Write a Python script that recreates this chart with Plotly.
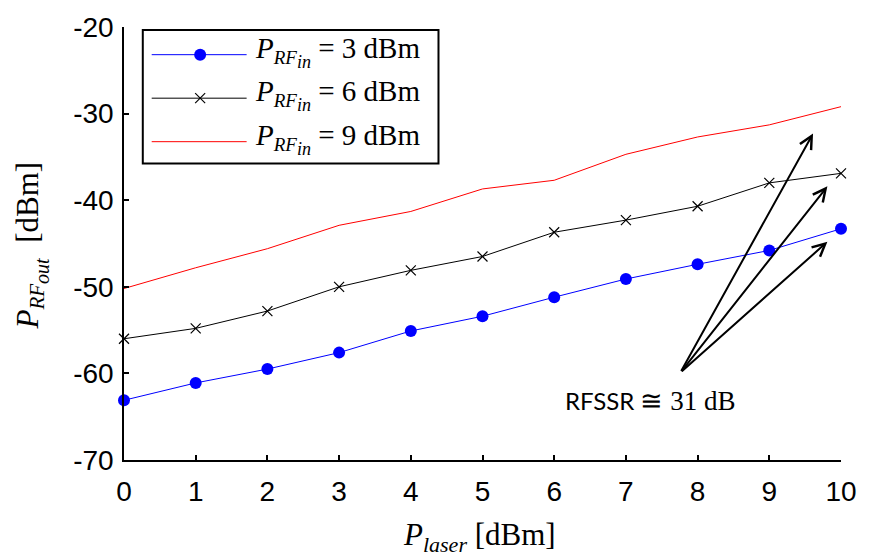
import plotly.graph_objects as go

# Laser power sweep [dBm]
p_laser = [0, 1, 2, 3, 4, 5, 6, 7, 8, 9, 10]

# Output RF power [dBm] for three RF input levels
p_out_3dbm = [-63.1, -61.1, -59.5, -57.6, -55.1, -53.4, -51.2, -49.1, -47.4, -45.8, -43.3]
p_out_6dbm = [-56.0, -54.8, -52.8, -50.0, -48.1, -46.5, -43.7, -42.3, -40.7, -38.0, -36.9]
p_out_9dbm = [-50.2, -47.8, -45.6, -42.9, -41.3, -38.7, -37.7, -34.7, -32.7, -31.3, -29.2]

x_ticks = [0, 1, 2, 3, 4, 5, 6, 7, 8, 9, 10]
y_ticks = [-70, -60, -50, -40, -30, -20]

legend_labels = ["= 3 dBm", "= 6 dBm", "= 9 dBm"]

# RFSSR arrows: common tail and three heads (data units)
arrow_tail = (7.76, -59.9)
arrow_heads = [(9.61, -32.3), (9.81, -38.4), (9.81, -44.8)]

W, H = 869, 557
L, R, T, B = 124, 20, 22, 97
PW, PH = W - L - R, H - T - B

SERIF = "Liberation Serif"


def px(xp):
    return (xp - L) / PW


def py(yp):
    return (H - B - yp) / PH


def sub_label(sym, first, second=None, size=18, size2=17):
    """Italic symbol with a (possibly two-level) subscript."""
    s = f"<i>{sym}<sub><span style=\"font-size:{size}px\">{first}</span>"
    if second:
        s += f"<sub><span style=\"font-size:{size2}px\">{second}</span></sub>"
    s += "</sub></i>"
    return s


fig = go.Figure()

fig.add_trace(go.Scatter(
    x=p_laser, y=p_out_3dbm, mode="lines+markers",
    line=dict(color="#0000ff", width=1),
    marker=dict(symbol="circle", size=12, color="#0000ff"),
    cliponaxis=False, showlegend=False))
fig.add_trace(go.Scatter(
    x=p_laser, y=p_out_6dbm, mode="lines+markers",
    line=dict(color="black", width=1),
    marker=dict(symbol="x-thin-open", size=10, color="black",
                line=dict(color="black", width=1.2)),
    cliponaxis=False, showlegend=False))
fig.add_trace(go.Scatter(
    x=p_laser, y=p_out_9dbm, mode="lines",
    line=dict(color="#ff0000", width=1),
    cliponaxis=False, showlegend=False))

shapes = []
annotations = []

# Legend box
shapes.append(dict(type="rect", xref="paper", yref="paper",
                   x0=px(143), x1=px(442), y0=py(160), y1=py(25),
                   line=dict(color="black", width=2), fillcolor="white",
                   layer="above"))
rows = [50, 94, 138]
colors = ["#0000ff", "black", "#ff0000"]
for i, (yy, c) in enumerate(zip(rows, colors)):
    shapes.append(dict(type="line", xref="paper", yref="paper",
                       x0=px(152), x1=px(248), y0=py(yy), y1=py(yy),
                       line=dict(color=c, width=1), layer="above"))
    annotations.append(dict(
        xref="paper", yref="paper", x=px(254), y=py(yy - 3),
        xanchor="left", yanchor="middle", showarrow=False,
        text=sub_label("P", "RF", "in", 19, 18) + " " + legend_labels[i],
        font=dict(family=SERIF, size=29, color="black")))

# Legend marker keys
cx = px(201)
shapes.append(dict(type="circle", xref="paper", yref="paper",
                   xsizemode="pixel", ysizemode="pixel",
                   xanchor=cx, yanchor=py(rows[0]),
                   x0=-6, x1=6, y0=-6, y1=6,
                   fillcolor="#0000ff", line=dict(color="#0000ff", width=0),
                   layer="above"))
for sx in (-1, 1):
    shapes.append(dict(type="line", xref="paper", yref="paper",
                       xsizemode="pixel", ysizemode="pixel",
                       xanchor=cx, yanchor=py(rows[1]),
                       x0=-5, x1=5, y0=-5 * sx, y1=5 * sx,
                       line=dict(color="black", width=1.2), layer="above"))

# RFSSR arrows
for hx, hy in arrow_heads:
    annotations.append(dict(
        x=hx, y=hy, ax=arrow_tail[0], ay=arrow_tail[1],
        xref="x", yref="y", axref="x", ayref="y",
        showarrow=True, arrowhead=5, arrowsize=1.25, arrowwidth=2,
        arrowcolor="black", text=""))

annotations.append(dict(
    xref="paper", yref="paper", x=px(656), y=py(400),
    xanchor="center", yanchor="middle", showarrow=False,
    text="RFSSR <span style=\"font-family:'Liberation Serif';font-size:27px\">\u2245 31 dB</span>",
    font=dict(family="Lato", size=24, color="black")))

# Axis titles
annotations.append(dict(
    xref="paper", yref="paper", x=px(30), y=py(243),
    xanchor="center", yanchor="middle", showarrow=False, textangle=-90,
    text=sub_label("P", "RF", "out", 21, 20) + "  [dBm]",
    font=dict(family=SERIF, size=31, color="black")))
annotations.append(dict(
    xref="paper", yref="paper", x=px(483), y=py(538),
    xanchor="center", yanchor="middle", showarrow=False,
    text=sub_label("P", "laser", None, 22) + " [dBm]",
    font=dict(family=SERIF, size=31, color="black")))

fig.update_layout(
    width=W, height=H,
    margin=dict(l=L, r=R, t=T, b=B),
    paper_bgcolor="white", plot_bgcolor="white",
    showlegend=False,
    shapes=shapes, annotations=annotations,
    xaxis=dict(range=[0, 10], tickvals=x_ticks, ticktext=[str(v) for v in x_ticks],
               showline=True, linecolor="black", linewidth=1.5,
               ticks="inside", ticklen=5, tickwidth=1.5, tickcolor="black",
               showgrid=False, zeroline=False, ticklabelstandoff=6,
               tickfont=dict(family="Liberation Sans", size=28, color="black")),
    yaxis=dict(range=[-70, -20], tickvals=y_ticks, ticktext=[str(v) for v in y_ticks],
               showline=True, linecolor="black", linewidth=1.5,
               ticks="inside", ticklen=5, tickwidth=1.5, tickcolor="black",
               showgrid=False, zeroline=False, ticklabelstandoff=3,
               tickfont=dict(family="Liberation Sans", size=28, color="black")),
)

fig.write_html("out.html")
